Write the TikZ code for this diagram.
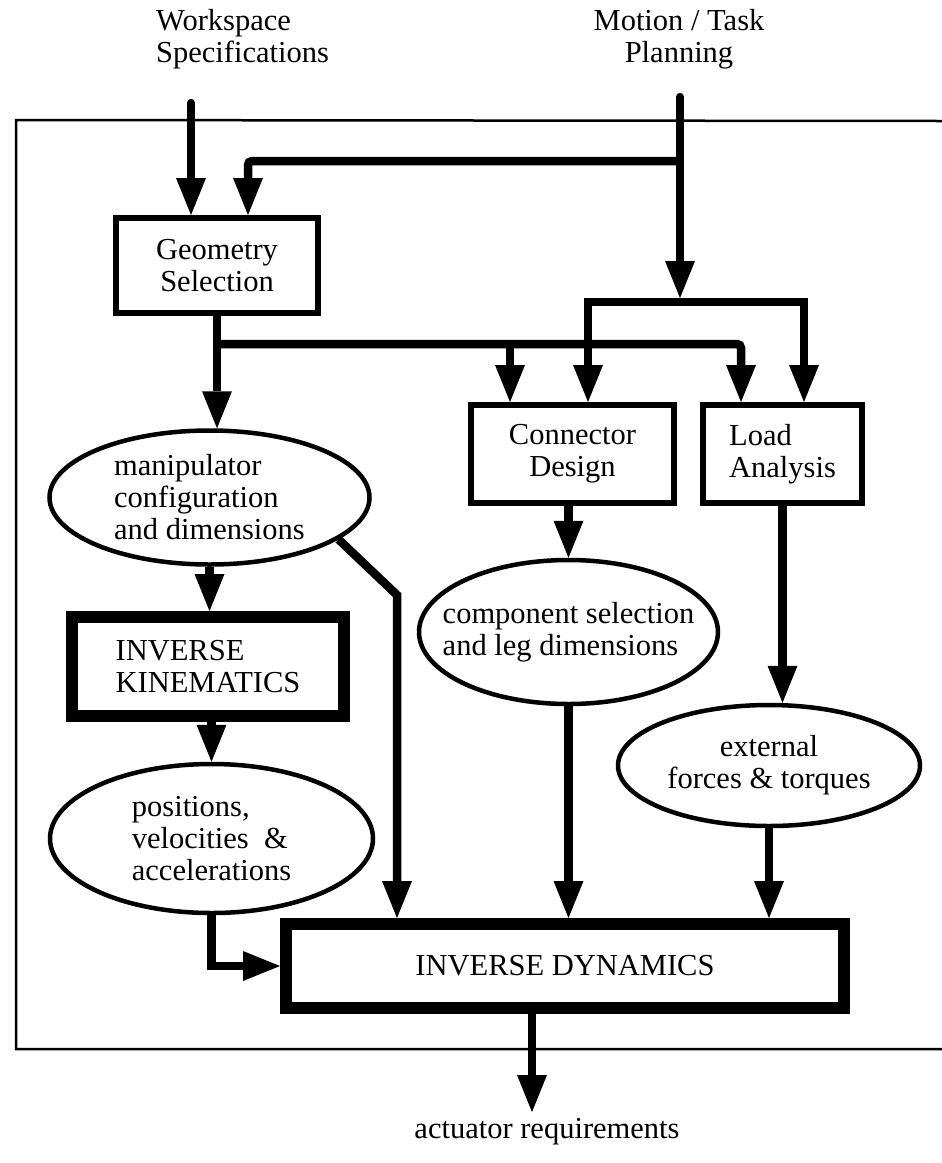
\documentclass[tikz,border=0pt]{standalone}
\usepackage{fontspec}
\setmainfont{Liberation Serif}
\usetikzlibrary{arrows.meta,shapes.geometric}
\newcommand\lblfont{\fontsize{30.5}{32}\selectfont}
\tikzset{
  bigtip/.tip={Triangle[length=37pt,width=30pt,line width=0pt]},
  plainline/.style={line width=8.5pt, line join=miter},
  flow/.style={plainline, -bigtip},
  biflow/.style={plainline, bigtip-bigtip},
  box/.style={draw, rectangle, line width=6pt, inner sep=0pt, font=\lblfont},
  heavybox/.style={draw, rectangle, line width=12pt, inner sep=0pt, font=\lblfont},
  oval/.style={draw, ellipse, line width=4.5pt, inner sep=0pt},
  lbl/.style={inner sep=0pt, font=\lblfont},
  frame/.style={line width=2.5pt}
}
\begin{document}
\begin{tikzpicture}[x=1pt, y=-1pt]
\useasboundingbox[fill=white] (0,0) rectangle (942,1163);

% outer frame (open on the right)
\draw[frame] (942,121) -- (16,120) -- (16,1049) -- (942,1049);

% inputs
\node[lbl, align=left, anchor=west] (ws) at (156,39) {Workspace\\Specifications};
\node[lbl, align=center] (mp) at (679,39) {Motion / Task\\Planning};

% boxes
\node[box, align=center, minimum width=202pt, minimum height=95pt] (geo) at (217,265.5) {Geometry\\Selection};
\node[box, align=center, minimum width=203pt, minimum height=98pt] (con) at (572.5,454) {Connector\\Design};
\node[box, align=left, minimum width=159pt, minimum height=98pt] (load) at (782.5,454) {Load\\Analysis};
\node[heavybox, align=left, minimum width=272pt, minimum height=99pt] (ik) at (208,666.5) {INVERSE\\KINEMATICS};
\node[heavybox, minimum width=558pt, minimum height=84pt] (id) at (565,966) {INVERSE DYNAMICS};

% intermediate results: ellipse outlines with their texts set on top
\node[oval, minimum width=320pt, minimum height=134pt] (man) at (209.5,497.5) {};
\node[lbl, align=left] (manT) at (man.center) {manipulator\\configuration\\and dimensions};
\node[oval, minimum width=299pt, minimum height=144pt] (comp) at (568.5,632) {};
\node[lbl, align=left] (compT) at (comp.center) {component selection\\and leg dimensions};
\node[oval, minimum width=302pt, minimum height=121pt] (ext) at (769,765.5) {};
\node[lbl, align=center] (extT) at (ext.center) {external\\forces \& torques};
\node[oval, minimum width=323pt, minimum height=149pt] (pos) at (211.5,838.5) {};
\node[lbl, align=left] (posT) at (pos.center) {positions,\\velocities~~\&\\accelerations};

% output
\node[lbl] (act) at (547,1132) {actuator requirements};

% junction points
\coordinate (wsTop) at (191,103);
\coordinate (mpTop) at (680,97);
\coordinate (mpBranch) at (680,161);
\coordinate (g2) at (248,161);
\coordinate (barHit) at (680,298);
\coordinate (barL) at (588,302);
\coordinate (barR) at (804,302);
\coordinate (gj) at (217,344);
\coordinate (cj) at (510,344);
\coordinate (lj) at (741,344);
\coordinate (dk) at (397,595);
\coordinate (actTip) at (532,1112);

% connectors
\draw[flow, line cap=round] (wsTop) -- (wsTop |- geo.north);
\draw[flow, line cap=round] (mpTop) -- (barHit);
\draw[flow, rounded corners=4pt] (mpBranch) -- (g2) -- (g2 |- geo.north);
\draw[biflow] (barL |- con.north) -- (barL) -- (barR) -- (barR |- load.north);
\draw[flow] (geo.south) -- (geo.south |- man.north);
\draw[flow, rounded corners=4pt] (gj) -- (lj) -- (lj |- load.north);
\draw[flow] (cj) -- (cj |- con.north);
\draw[flow] (man.south) -- (man.south |- ik.north);
\draw[flow] (man.-18) -- (dk) -- (dk |- id.north);
\draw[flow] (comp.north |- con.south) -- (comp.north);
\draw[flow] (load.south) -- (load.south |- ext.north);
\draw[flow] (pos.north |- ik.south) -- (pos.north);
\draw[flow] (comp.south) -- (comp.south |- id.north);
\draw[flow] (ext.south) -- (ext.south |- id.north);
\draw[flow] (pos.south) |- (id.west);
\draw[flow] (actTip |- id.south) -- (actTip);
\end{tikzpicture}
\end{document}
